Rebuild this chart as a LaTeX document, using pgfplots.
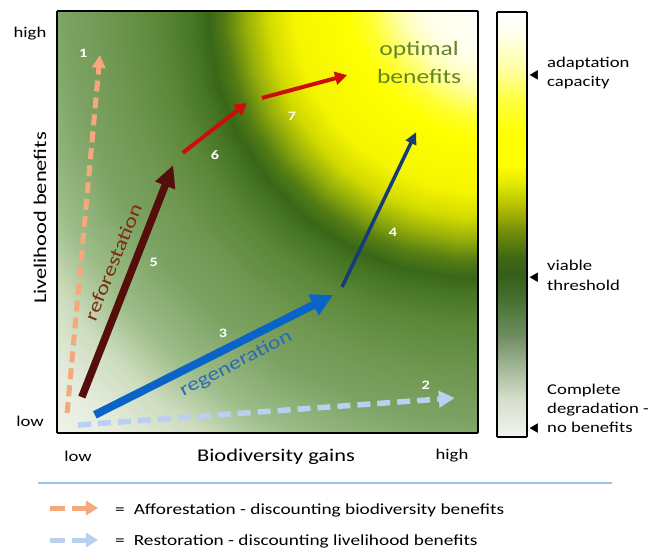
\documentclass[border=0pt]{standalone}
\usepackage{fontspec}
\setmainfont{Carlito}[FakeStretch=1.25]
\usepackage{pgfplots}
\pgfplotsset{compat=1.18}
\usetikzlibrary{arrows.meta}
\definecolor{orangeA}{RGB}{245,168,125}
\definecolor{lblue}{RGB}{185,208,240}
\definecolor{blueA}{RGB}{10,100,200}
\definecolor{navy}{RGB}{20,60,120}
\definecolor{brownA}{RGB}{85,15,10}
\definecolor{redA}{RGB}{205,12,12}
\definecolor{refor}{RGB}{125,45,20}
\definecolor{regen}{RGB}{45,105,185}
\definecolor{optim}{RGB}{100,132,40}
\definecolor{sepc}{RGB}{155,195,230}
\begin{document}
\begin{tikzpicture}
\useasboundingbox (0,0) rectangle (660bp,549bp);
\begin{axis}[
 at={(57bp,116bp)}, anchor=south west, scale only axis,
 width=421bp, height=422bp,
 xmin=0, xmax=10, ymin=0, ymax=10, zmin=0, zmax=20,
 view={0}{90},
 xtick=\empty, ytick=\empty, ztick=\empty,
 axis line style={line width=2.4bp, black},
 axis on top, clip mode=individual,
 colormap={main}{rgb255(8pt)=(255,255,255); rgb255(20pt)=(255,255,232); rgb255(25pt)=(255,255,185); rgb255(33pt)=(255,255,50); rgb255(38pt)=(255,255,0); rgb255(50pt)=(245,245,0); rgb255(56pt)=(210,218,0); rgb255(61pt)=(150,175,10); rgb255(66pt)=(85,125,20); rgb255(70pt)=(56,103,24); rgb255(74pt)=(70,118,38); rgb255(82pt)=(92,136,58); rgb255(95pt)=(112,152,82); rgb255(105pt)=(125,163,100); rgb255(118pt)=(155,188,135); rgb255(129pt)=(205,220,190); rgb255(140pt)=(228,235,220); rgb255(154pt)=(242,245,238)},
 point meta min=0.8, point meta max=15.4,
]
\addplot3[surf, shader=interp, mesh/rows=18, mesh/cols=10, point meta=z] table {
x y z
9.80 10.70 0.8
9.81 10.56 0.8
9.85 10.43 0.8
9.91 10.30 0.8
9.99 10.19 0.8
10.09 10.09 0.8
10.20 10.01 0.8
10.33 9.95 0.8
10.46 9.91 0.8
10.60 9.90 0.8
8.60 10.70 2.0
8.63 10.35 2.0
8.72 10.02 2.0
8.87 9.70 2.0
9.07 9.41 2.0
9.31 9.17 2.0
9.60 8.97 2.0
9.92 8.82 2.0
10.25 8.73 2.0
10.60 8.70 2.0
8.10 10.70 2.5
8.14 10.27 2.5
8.25 9.85 2.5
8.44 9.45 2.5
8.69 9.09 2.5
8.99 8.79 2.5
9.35 8.54 2.5
9.75 8.35 2.5
10.17 8.24 2.5
10.60 8.20 2.5
7.30 10.70 3.3
7.35 10.13 3.3
7.50 9.57 3.3
7.74 9.05 3.3
8.07 8.58 3.3
8.48 8.17 3.3
8.95 7.84 3.3
9.47 7.60 3.3
10.03 7.45 3.3
10.60 7.40 3.3
6.80 10.70 3.8
6.86 10.04 3.8
7.03 9.40 3.8
7.31 8.80 3.8
7.69 8.26 3.8
8.16 7.79 3.8
8.70 7.41 3.8
9.30 7.13 3.8
9.94 6.96 3.8
10.60 6.90 3.8
5.60 10.70 5.0
5.60 9.82 5.0
5.77 8.94 5.0
6.10 8.10 5.0
6.60 7.35 5.0
7.25 6.70 5.0
8.00 6.20 5.0
8.84 5.87 5.0
9.72 5.70 5.0
10.60 5.70 5.0
5.00 10.70 5.6
5.00 9.71 5.6
5.19 8.73 5.6
5.56 7.79 5.6
6.12 6.94 5.6
6.84 6.22 5.6
7.69 5.66 5.6
8.63 5.29 5.6
9.61 5.10 5.6
10.60 5.10 5.6
4.50 10.70 6.1
4.50 9.63 6.1
4.70 8.55 6.1
5.11 7.53 6.1
5.72 6.61 6.1
6.51 5.82 6.1
7.43 5.21 6.1
8.45 4.80 6.1
9.53 4.60 6.1
10.60 4.60 6.1
4.00 10.70 6.6
4.00 9.54 6.6
4.22 8.38 6.6
4.66 7.27 6.6
5.32 6.27 6.6
6.17 5.42 6.6
7.17 4.76 6.6
8.28 4.32 6.6
9.44 4.10 6.6
10.60 4.10 6.6
3.60 10.70 7.0
3.60 9.47 7.0
3.83 8.24 7.0
4.30 7.06 7.0
5.00 6.00 7.0
5.90 5.10 7.0
6.96 4.40 7.0
8.14 3.93 7.0
9.37 3.70 7.0
10.60 3.70 7.0
3.20 10.70 7.4
3.20 9.40 7.4
3.44 8.10 7.4
3.94 6.86 7.4
4.68 5.73 7.4
5.63 4.78 7.4
6.76 4.04 7.4
8.00 3.54 7.4
9.30 3.30 7.4
10.60 3.30 7.4
2.40 10.70 8.2
2.45 9.26 8.2
2.77 7.85 8.2
3.34 6.51 8.2
4.16 5.30 8.2
5.20 4.26 8.2
6.41 3.44 8.2
7.75 2.87 8.2
9.16 2.55 8.2
10.60 2.50 8.2
1.10 10.70 9.5
1.24 9.05 9.5
1.67 7.45 9.5
2.37 5.95 9.5
3.32 4.59 9.5
4.49 3.42 9.5
5.85 2.47 9.5
7.35 1.77 9.5
8.95 1.34 9.5
10.60 1.20 9.5
0.10 10.70 10.5
0.26 8.88 10.5
0.73 7.11 10.5
1.51 5.45 10.5
2.56 3.95 10.5
3.85 2.66 10.5
5.35 1.61 10.5
7.01 0.83 10.5
8.78 0.36 10.5
10.60 0.20 10.5
-1.20 10.70 11.8
-1.02 8.65 11.8
-0.49 6.66 11.8
0.38 4.80 11.8
1.56 3.11 11.8
3.01 1.66 11.8
4.70 0.48 11.8
6.56 -0.39 11.8
8.55 -0.92 11.8
10.60 -1.10 11.8
-2.30 10.70 12.9
-2.10 8.46 12.9
-1.52 6.29 12.9
-0.57 4.25 12.9
0.72 2.41 12.9
2.31 0.82 12.9
4.15 -0.47 12.9
6.19 -1.42 12.9
8.36 -2.00 12.9
10.60 -2.20 12.9
-3.40 10.70 14.0
-3.19 8.27 14.0
-2.56 5.91 14.0
-1.52 3.70 14.0
-0.12 1.70 14.0
1.60 -0.02 14.0
3.60 -1.42 14.0
5.81 -2.46 14.0
8.17 -3.09 14.0
10.60 -3.30 14.0
-4.80 10.70 15.4
-4.57 8.03 15.4
-3.87 5.43 15.4
-2.74 3.00 15.4
-1.20 0.80 15.4
0.70 -1.10 15.4
2.90 -2.64 15.4
5.33 -3.77 15.4
7.93 -4.47 15.4
10.60 -4.70 15.4
};
% arrows
\addplot3[orangeA, line width=5bp, dash pattern=on 11bp off 6bp, -{Triangle[length=13bp,width=13bp]}] coordinates {(0.24,0.47,20) (1.02,8.96,20)};
\addplot3[lblue, line width=5.5bp, dash pattern=on 13bp off 7bp, -{Triangle[length=16bp,width=16bp]}] coordinates {(0.50,0.19,20) (9.45,0.83,20)};
\addplot3[blueA, line width=8bp, -{Triangle[length=22bp,width=22bp]}] coordinates {(0.90,0.43,20) (6.56,3.27,20)};
\addplot3[navy, line width=3.5bp, -{Triangle[length=12bp,width=11bp]}] coordinates {(6.77,3.46,20) (8.53,7.13,20)};
\addplot3[brownA, line width=7.5bp, -{Triangle[length=22bp,width=20bp]}] coordinates {(0.59,0.85,20) (2.76,6.35,20)};
\addplot3[redA, line width=4bp, -{Triangle[length=12bp,width=13bp]}] coordinates {(2.99,6.64,20) (4.51,7.82,20)};
\addplot3[redA, line width=4bp, -{Triangle[length=12bp,width=13bp]}] coordinates {(4.87,7.94,20) (6.89,8.48,20)};
% in-plot labels
\begin{scope}[every node/.style={text=white, font=\bfseries\fontsize{13}{15}\selectfont, inner sep=0pt}]
\node at (axis cs:0.62,9.0,20) {1};
\node at (axis cs:8.76,1.14,20) {2};
\node at (axis cs:3.94,2.37,20) {3};
\node at (axis cs:7.98,4.76,20) {4};
\node at (axis cs:2.30,4.05,20) {5};
\node at (axis cs:3.75,6.59,20) {6};
\node at (axis cs:5.58,7.51,20) {7};
\end{scope}
\node[text=refor, rotate=67.8, inner sep=0pt, font=\fontsize{19}{22}\selectfont] at (axis cs:1.33,4.05,20) {reforestation};
\node[text=regen, rotate=27.4, inner sep=0pt, font=\fontsize{19}{22}\selectfont] at (axis cs:4.25,1.64,20) {regeneration};
\node[text=optim, align=center, inner sep=0pt, font=\fontsize{20.5}{28}\selectfont] at (axis cs:8.60,8.78,20) {optimal\\benefits};
\end{axis}
\begin{axis}[
 at={(497bp,112bp)}, anchor=south west, scale only axis,
 width=30bp, height=425bp,
 xmin=0, xmax=1, ymin=0, ymax=1, zmin=0, zmax=110,
 view={0}{90},
 xtick=\empty, ytick=\empty, ztick=\empty,
 axis line style={line width=1.2bp, black},
 axis on top, clip=false,
 colormap={bar}{rgb255(0pt)=(255,255,255); rgb255(5pt)=(255,255,235); rgb255(13pt)=(255,255,170); rgb255(21pt)=(255,255,60); rgb255(29pt)=(255,255,0); rgb255(36pt)=(255,255,0); rgb255(40pt)=(230,235,0); rgb255(46pt)=(180,190,0); rgb255(52pt)=(110,140,10); rgb255(58pt)=(62,102,22); rgb255(62pt)=(50,95,25); rgb255(68pt)=(70,115,50); rgb255(76pt)=(110,140,95); rgb255(83pt)=(160,180,145); rgb255(91pt)=(215,222,205); rgb255(100pt)=(242,244,240)},
 point meta min=0, point meta max=100,
]
\addplot3[surf, shader=interp, mesh/rows=16, mesh/cols=2, point meta=z] table {
x y z
0 0.00 100
1 0.00 100
0 0.09 91
1 0.09 91
0 0.17 83
1 0.17 83
0 0.24 76
1 0.24 76
0 0.32 68
1 0.32 68
0 0.38 62
1 0.38 62
0 0.42 58
1 0.42 58
0 0.48 52
1 0.48 52
0 0.54 46
1 0.54 46
0 0.60 40
1 0.60 40
0 0.64 36
1 0.64 36
0 0.71 29
1 0.71 29
0 0.79 21
1 0.79 21
0 0.87 13
1 0.87 13
0 0.95 5
1 0.95 5
0 1.00 0
1 1.00 0
};
\addplot3[only marks, mark=triangle*, mark size=5bp, mark options={rotate=90, fill=black, draw=black}] coordinates {(1.27,0.852,105) (1.27,0.376,105) (1.27,0.021,105)};
\end{axis}
% overlay axis in picture pixels for separator and legend keys
\begin{axis}[
 at={(0bp,0bp)}, anchor=south west, scale only axis,
 width=660bp, height=549bp,
 xmin=0, xmax=660, ymin=0, ymax=549, y dir=reverse,
 hide axis, clip=false,
]
\addplot[sepc, line width=2bp] coordinates {(38,483) (612,483)};
\addplot[orangeA, line width=5bp, dash pattern=on 15bp off 7bp, -{Triangle[length=12bp,width=14bp]}] coordinates {(50,508) (98,508)};
\addplot[lblue, line width=5bp, dash pattern=on 15bp off 7bp, -{Triangle[length=12bp,width=14bp]}] coordinates {(50,540) (98,540)};
\end{axis}
% axis texts
\node[anchor=base, inner sep=0pt, font=\fontsize{15}{18}\selectfont] at (30bp,511bp) {high};
\node[anchor=base, inner sep=0pt, font=\fontsize{15}{18}\selectfont] at (30bp,122bp) {low};
\node[rotate=90, inner sep=0pt, font=\fontsize{18}{22}\selectfont] at (40bp,331bp) {Livelihood benefits};
\node[anchor=base, inner sep=0pt, font=\fontsize{15}{18}\selectfont] at (78bp,87bp) {low};
\node[anchor=base, inner sep=0pt, font=\fontsize{18}{22}\selectfont] at (276bp,87bp) {Biodiversity gains};
\node[anchor=base, inner sep=0pt, font=\fontsize{15}{18}\selectfont] at (452bp,89bp) {high};
% colorbar texts
\node[anchor=west, align=left, inner sep=0pt, font=\fontsize{15}{20}\selectfont] at (547bp,476bp) {adaptation\\capacity};
\node[anchor=west, align=left, inner sep=0pt, font=\fontsize{15}{20}\selectfont] at (547bp,274bp) {viable\\threshold};
\node[anchor=west, align=left, inner sep=0pt, font=\fontsize{15}{19}\selectfont] at (547bp,141bp) {Complete\\degradation -\\no benefits};
% legend texts
\node[anchor=base west, inner sep=0pt, font=\fontsize{15.5}{18}\selectfont] at (115bp,35bp) {=\hspace{9bp}Afforestation - discounting biodiversity benefits};
\node[anchor=base west, inner sep=0pt, font=\fontsize{15.5}{18}\selectfont] at (115bp,4bp) {=\hspace{9bp}Restoration - discounting livelihood benefits};
\end{tikzpicture}
\end{document}
